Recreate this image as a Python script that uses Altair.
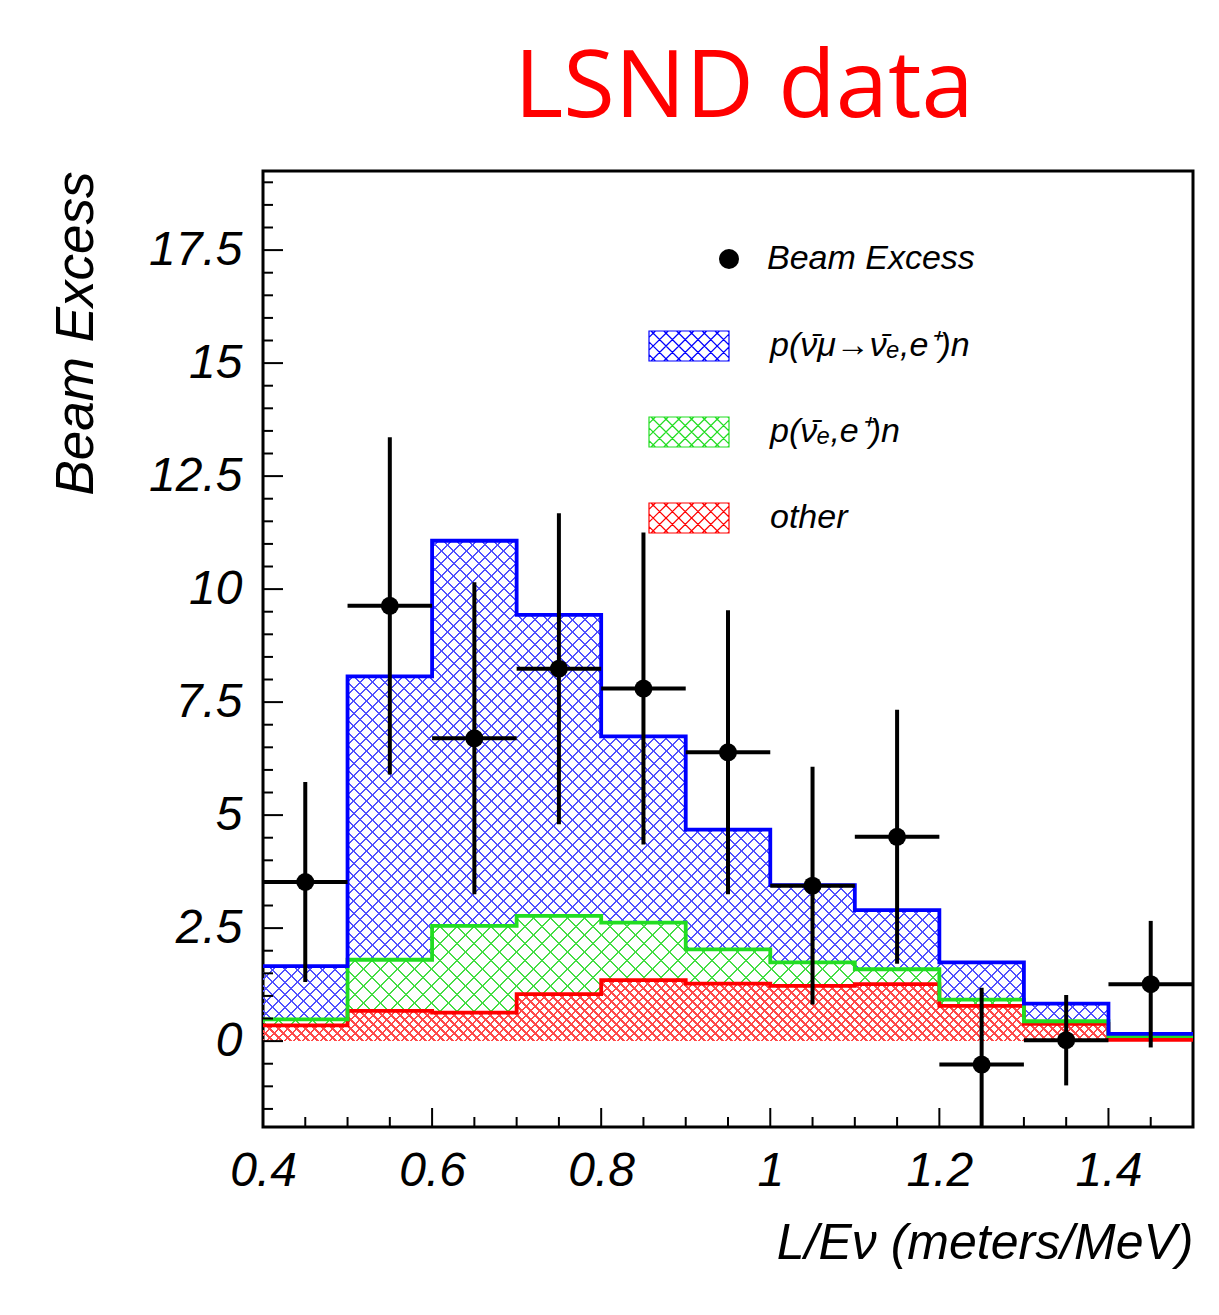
import altair as alt
import pandas as pd

# ---------------- data ----------------
edges = [0.4, 0.5, 0.6, 0.7, 0.8, 0.9, 1.0, 1.1, 1.2, 1.3, 1.4, 1.5]
other = [0.35, 0.67, 0.63, 1.04, 1.35, 1.27, 1.22, 1.26, 0.78, 0.38, 0.03]
nuebar = [0.13, 1.13, 1.92, 1.73, 1.27, 0.76, 0.52, 0.33, 0.14, 0.06, 0.08]
osc = [1.18, 6.27, 8.52, 6.66, 4.12, 2.65, 1.71, 1.31, 0.82, 0.39, 0.05]

centers = [0.45, 0.55, 0.65, 0.75, 0.85, 0.95, 1.05, 1.15, 1.25, 1.35, 1.45]
excess = [3.52, 9.63, 6.70, 8.24, 7.80, 6.39, 3.44, 4.52, -0.52, 0.02, 1.26]
err = [2.21, 3.73, 3.45, 3.44, 3.45, 3.14, 2.63, 2.81, 1.70, 1.00, 1.40]
half_bin = 0.05

x_major = [0.4, 0.6, 0.8, 1.0, 1.2, 1.4]
x_minor = [0.45, 0.5, 0.55, 0.65, 0.7, 0.75, 0.85, 0.9, 0.95, 1.05, 1.1, 1.15,
           1.25, 1.3, 1.35, 1.45]
y_major = [0, 2.5, 5, 7.5, 10, 12.5, 15, 17.5]
y_minor = [-1.5, -1, -0.5, 0.5, 1, 1.5, 2, 3, 3.5, 4, 4.5, 5.5, 6, 6.5, 7, 8, 8.5,
           9, 9.5, 10.5, 11, 11.5, 12, 13, 13.5, 14, 14.5, 15.5, 16, 16.5, 17,
           18, 18.5, 19]

name_osc = "p(\u03bd\u0304\u03bc\u2192\u03bd\u0304\u2091,e\u207a)n"
name_nue = "p(\u03bd\u0304\u2091,e\u207a)n"
name_other = "other"
name_data = "Beam Excess"

# ---------------- tables ----------------
rows = []
comps = [(name_other, other), (name_nue, nuebar), (name_osc, osc)]
for i, e in enumerate(edges):
    j = min(i, len(other) - 1)
    base = 0.0
    for nm, vals in comps:
        rows.append({"x": e, "series": nm, "lo": base, "hi": base + vals[j]})
        base += vals[j]
hist = pd.DataFrame(rows)

pts = pd.DataFrame({
    "x": centers,
    "y": excess,
    "ylo": [v - e for v, e in zip(excess, err)],
    "yhi": [v + e for v, e in zip(excess, err)],
    "xlo": [c - half_bin for c in centers],
    "xhi": [c + half_bin for c in centers],
    "label": [name_data] * len(centers),
})

W, H = 930, 956
XDOM = [0.4, 1.5]
YDOM = [-1.9, 19.25]
xs = alt.Scale(domain=XDOM, nice=False, zero=False)
ys = alt.Scale(domain=YDOM, nice=False, zero=False)
PX_PER_Y = H / (YDOM[1] - YDOM[0])

FONT = "Liberation Sans"

# ---------------- cross-hatch styling (gradient stripes) ----------------
def hatch_gradients(sub, color, spacing, width):
    bw = W
    bh = max((sub["hi"].max() - sub["lo"].min()) * PX_PER_Y, 1.0)
    L = bw + bh
    k = L / (bw * bw + bh * bh)
    clear = "rgba(255,255,255,0)"
    stops = []
    a = 0.0
    while a < L:
        o1 = a / L
        o2 = min((a + width) / L, 1.0)
        o3 = min((a + spacing) / L, 1.0)
        stops += [alt.GradientStop(offset=o1, color=color),
                  alt.GradientStop(offset=o2, color=color),
                  alt.GradientStop(offset=o2, color=clear),
                  alt.GradientStop(offset=o3, color=clear)]
        a += spacing
    g1 = alt.LinearGradient(gradient="linear", stops=stops,
                            x1=0, y1=0, x2=k * bw, y2=k * bh)
    g2 = alt.LinearGradient(gradient="linear", stops=stops,
                            x1=0, y1=1, x2=k * bw, y2=1 - k * bh)
    return g1, g2

hatch_style = {
    name_osc: ("#5050ff", 12.5, 1.9),
    name_nue: ("#44dd44", 17.0, 2.0),
    name_other: ("#ff4a4a", 9.0, 2.6),
}

hatch_layers = []
for nm in [name_osc, name_nue, name_other]:
    sub = hist[hist["series"] == nm]
    col, sp, wd = hatch_style[nm]
    for g in hatch_gradients(sub, col, sp, wd):
        hatch_layers.append(
            alt.Chart(sub).mark_area(interpolate="step-after", fill=g).encode(
                x=alt.X("x:Q", scale=xs),
                y=alt.Y("hi:Q", scale=ys, stack=None),
                y2="lo:Q",
            )
        )

# legend symbol: a box with a cross-hatch drawn inside
def hatch_symbol(hh=0.375, s=0.32):
    parts = ["M-1,%.3fH1V%.3fH-1Z" % (-hh, hh)]
    c = -1 - hh + s / 2
    while c < 1 + hh:
        xa, xb = max(-1, c - hh), min(1, c + hh)
        if xb - xa > 1e-6:
            parts.append("M%.3f,%.3fL%.3f,%.3f" % (xa, c - xa, xb, c - xb))
            parts.append("M%.3f,%.3fL%.3f,%.3f" % (xa, xa - c, xb, xb - c))
        c += s
    return "".join(parts)

x_axis = alt.Axis(values=x_major, format=".1~f", ticks=False, domain=False, grid=False,
                  labelFont=FONT, labelFontSize=48, labelFontStyle="italic",
                  labelColor="black", labelPadding=20, labelFlush=False,
                  title="L/E\u03bd (meters/MeV)", titleFont=FONT, titleFontSize=50,
                  titleFontStyle="italic", titleFontWeight="normal", titleColor="black",
                  titleAlign="right", titleBaseline="alphabetic", titleX=W, titleY=131)
y_axis = alt.Axis(values=y_major, format=".1~f", ticks=False, domain=False, grid=False,
                  labelFont=FONT, labelFontSize=48, labelFontStyle="italic",
                  labelColor="black", labelPadding=21, labelFlush=False,
                  title="Beam Excess", titleFont=FONT, titleFontSize=53,
                  titleFontStyle="italic", titleFontWeight="normal", titleColor="black",
                  titleAngle=270, titleAlign="right", titleBaseline="alphabetic",
                  titleX=-171, titleY=0)

base = alt.Chart(hist).mark_area(interpolate="step-after", fill="white", opacity=0).encode(
    x=alt.X("x:Q", scale=xs, axis=x_axis),
    y=alt.Y("hi:Q", scale=ys, axis=y_axis, stack=None),
    y2="lo:Q",
    detail="series:N",
)

stroke_scale = alt.Scale(domain=[name_osc, name_nue, name_other],
                         range=["#0000ff", "#22dd22", "#ff0000"])

lines = alt.Chart(hist).mark_line(interpolate="step-after", strokeWidth=3.8).encode(
    x=alt.X("x:Q", scale=xs),
    y=alt.Y("hi:Q", scale=ys),
    stroke=alt.Stroke("series:N", scale=stroke_scale, legend=alt.Legend(
        orient="none", legendX=385, legendY=134, title=None, padding=0,
        symbolType=hatch_symbol(), symbolSize=6400, symbolStrokeWidth=1.2,
        symbolFillColor="white",
        labelFont=FONT, labelFontSize=34, labelFontStyle="italic",
        labelColor="black", labelOffset=40, rowPadding=27, labelLimit=0)),
)

vbars = alt.Chart(pts).mark_rule(strokeWidth=4, color="black", clip=True).encode(
    x=alt.X("x:Q", scale=xs), y=alt.Y("ylo:Q", scale=ys), y2="yhi:Q")
hbars = alt.Chart(pts).mark_rule(strokeWidth=4, color="black", clip=True).encode(
    x=alt.X("xlo:Q", scale=xs), x2="xhi:Q", y=alt.Y("y:Q", scale=ys))
dots = alt.Chart(pts).mark_point(filled=True, size=324, color="black", opacity=1).encode(
    x=alt.X("x:Q", scale=xs), y=alt.Y("y:Q", scale=ys),
    shape=alt.Shape("label:N", scale=alt.Scale(domain=[name_data], range=["circle"]),
                    legend=alt.Legend(orient="none", legendX=449, legendY=71, title=None,
                                      padding=0, symbolSize=400, symbolFillColor="black",
                                      symbolStrokeColor="black", labelFont=FONT,
                                      labelFontSize=34, labelFontStyle="italic",
                                      labelColor="black", labelOffset=21, labelLimit=0)),
)

def yticks(vals, length):
    return alt.Chart(pd.DataFrame({"v": vals})).mark_rule(color="black", strokeWidth=2).encode(
        y=alt.Y("v:Q", scale=ys), x=alt.value(0), x2=alt.value(length))

def xticks(vals, length):
    return alt.Chart(pd.DataFrame({"v": vals})).mark_rule(color="black", strokeWidth=2).encode(
        x=alt.X("v:Q", scale=xs), y=alt.value(H), y2=alt.value(H - length))

chart = alt.layer(
    base, *hatch_layers, lines,
    yticks(y_major, 20), yticks(y_minor, 10),
    xticks(x_major, 19), xticks(x_minor, 10),
    vbars, hbars, dots,
).properties(
    width=W, height=H,
    title=alt.Title("LSND data", font="Open Sans", fontSize=94, color="#ff0000",
                    fontWeight="normal", anchor="middle", frame="group", dx=16, dy=93,
                    baseline="alphabetic", offset=53),
    autosize=alt.AutoSizeParams(type="none"),
    padding={"left": 263, "top": 171, "right": 26, "bottom": 188},
    background="white",
).configure_view(stroke="black", strokeWidth=3)

chart.save("out.html", embed_options={"renderer": "svg", "actions": False})
